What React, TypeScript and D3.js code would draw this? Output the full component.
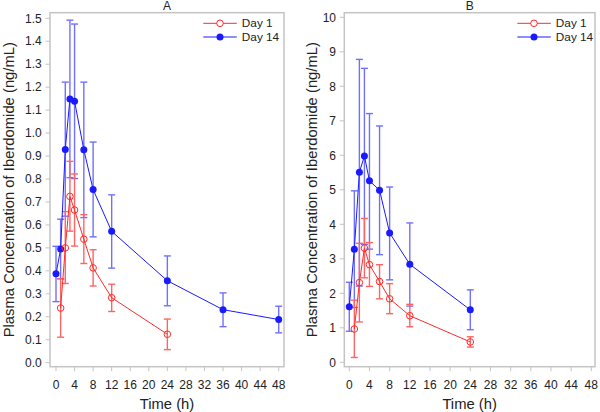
import React from "react";
import * as d3 from "d3";

const xTicks = [0, 4, 8, 12, 16, 20, 24, 28, 32, 36, 40, 44, 48];
const seriesNames = ["Day 1", "Day 14"];

// Panel A
const aDay1Time = [1, 2, 3, 4, 6, 8, 12, 24];
const aDay1Mean = [0.238, 0.5, 0.724, 0.665, 0.538, 0.413, 0.283, 0.124];
const aDay1Up = [0.365, 0.658, 0.877, 0.822, 0.645, 0.492, 0.342, 0.19];
const aDay1Lo = [0.111, 0.345, 0.573, 0.508, 0.432, 0.334, 0.223, 0.057];
const aDay14Time = [0, 1, 2, 3, 4, 6, 8, 12, 24, 36, 48];
const aDay14Mean = [0.387, 0.495, 0.929, 1.149, 1.139, 0.927, 0.754, 0.572, 0.357, 0.231, 0.188];
const aDay14Up = [0.507, 0.625, 1.222, 1.492, 1.475, 1.222, 0.961, 0.731, 0.465, 0.304, 0.246];
const aDay14Lo = [0.266, 0.366, 0.638, 0.806, 0.802, 0.632, 0.548, 0.412, 0.248, 0.157, 0.13];
const aYTicks = [0, 0.1, 0.2, 0.3, 0.4, 0.5, 0.6, 0.7, 0.8, 0.9, 1.0, 1.1, 1.2, 1.3, 1.4, 1.5];

// Panel B
const bDay1Time = [1, 2, 3, 4, 6, 8, 12, 24];
const bDay1Mean = [0.965, 2.31, 3.31, 2.83, 2.34, 1.84, 1.35, 0.59];
const bDay1Up = [1.8, 3.45, 4.17, 3.47, 2.83, 2.28, 1.68, 0.74];
const bDay1Lo = [0.14, 1.17, 2.45, 2.2, 1.84, 1.41, 1.03, 0.44];
const bDay14Time = [0, 1, 2, 3, 4, 6, 8, 12, 24];
const bDay14Mean = [1.61, 3.28, 5.51, 5.98, 5.26, 4.99, 3.75, 2.84, 1.52];
const bDay14Up = [2.32, 4.97, 8.78, 8.52, 7.21, 6.85, 5.08, 4.04, 2.1];
const bDay14Lo = [0.9, 1.59, 2.21, 3.42, 3.28, 3.12, 2.39, 1.63, 0.945];
const bYTicks = [0, 1, 2, 3, 4, 5, 6, 7, 8, 9, 10];

const RED = "#ff2a2a";
const RED_ERR = "#ff6464";
const BLUE = "#1a1aff";
const BLUE_ERR = "#7070ff";
const FRAME = "#c4c4c4";
const FONT = "'Liberation Sans', Arial, sans-serif";

type Series = { t: number[]; m: number[]; up: number[]; lo: number[] };

function Panel(props: {
  title: string;
  frameL: number; frameR: number; frameT: number; frameB: number;
  x0: number; x48: number;
  yBottom: number; yTop: number; yMax: number;
  yTicks: number[]; yFmt: (v: number) => string;
  yLabelX: number;
  legendX: number;
  day1: Series; day14: Series;
}) {
  const { frameL, frameR, frameT, frameB } = props;
  const x = d3.scaleLinear().domain([0, 48]).range([props.x0, props.x48]);
  const y = d3.scaleLinear().domain([0, props.yMax]).range([props.yBottom, props.yTop]);
  const line = d3.line<[number, number]>().x(d => x(d[0])).y(d => y(d[1]));
  const cap = 3.5;

  const errBars = (s: Series, color: string) =>
    s.t.map((t, i) => (
      <g key={i} stroke={color} strokeWidth={1.4} fill="none">
        <line x1={x(t)} x2={x(t)} y1={y(s.lo[i])} y2={y(s.up[i])} />
        <line x1={x(t) - cap} x2={x(t) + cap} y1={y(s.up[i])} y2={y(s.up[i])} />
        <line x1={x(t) - cap} x2={x(t) + cap} y1={y(s.lo[i])} y2={y(s.lo[i])} />
      </g>
    ));

  const pts = (s: Series) => s.t.map((t, i) => [t, s.m[i]] as [number, number]);
  const cx = (frameL + frameR) / 2;
  const cy = (frameT + frameB) / 2;
  const lx = props.legendX;

  return (
    <g>
      <text x={cx} y={10} textAnchor="middle" fontSize={12} fontFamily={FONT} fill="#222">{props.title}</text>
      {props.yTicks.map(v => (
        <g key={v}>
          <line x1={frameL - 4.5} x2={frameL} y1={y(v)} y2={y(v)} stroke={FRAME} strokeWidth={1} />
          <text x={frameL - 8.3} y={y(v)} dy="0.35em" textAnchor="end" fontSize={12} fontFamily={FONT} fill="#222">{props.yFmt(v)}</text>
        </g>
      ))}
      {xTicks.map(v => (
        <g key={v}>
          <line x1={x(v)} x2={x(v)} y1={frameB} y2={frameB + 4.5} stroke={FRAME} strokeWidth={1} />
          <text x={x(v)} y={384.5} dy="0.35em" textAnchor="middle" fontSize={12} fontFamily={FONT} fill="#222">{v}</text>
        </g>
      ))}
      <text x={cx} y={403.5} dy="0.35em" textAnchor="middle" fontSize={14.8} fontFamily={FONT} fill="#222">Time (h)</text>
      <text transform={`translate(${props.yLabelX},${cy}) rotate(-90)`} dy="0.35em" textAnchor="middle" fontSize={14.8} fontFamily={FONT} fill="#222">
        Plasma Concentration of Iberdomide (ng/mL)
      </text>
      {errBars(props.day14, BLUE_ERR)}
      {errBars(props.day1, RED_ERR)}
      <path d={line(pts(props.day14)) || ""} fill="none" stroke={BLUE} strokeWidth={1} />
      <path d={line(pts(props.day1)) || ""} fill="none" stroke={RED} strokeWidth={1} />
      {props.day14.t.map((t, i) => (
        <circle key={i} cx={x(t)} cy={y(props.day14.m[i])} r={3.5} fill={BLUE} />
      ))}
      {props.day1.t.map((t, i) => (
        <circle key={i} cx={x(t)} cy={y(props.day1.m[i])} r={3.3} fill="none" stroke={RED} strokeWidth={1} />
      ))}
      <rect x={frameL} y={frameT} width={frameR - frameL} height={frameB - frameT} fill="none" stroke={FRAME} strokeWidth={1.5} />
      <g>
        <line x1={lx} x2={lx + 33.5} y1={23.3} y2={23.3} stroke={RED} strokeWidth={1} />
        <circle cx={lx + 16.7} cy={23.3} r={3.3} fill="#fff" stroke={RED} strokeWidth={1} />
        <text x={lx + 38.5} y={23.3} dy="0.35em" fontSize={11.8} fontFamily={FONT} fill="#222">{seriesNames[0]}</text>
        <line x1={lx} x2={lx + 33.5} y1={37} y2={37} stroke={BLUE} strokeWidth={1} />
        <circle cx={lx + 16.7} cy={37} r={3.5} fill={BLUE} />
        <text x={lx + 38.5} y={37} dy="0.35em" fontSize={11.8} fontFamily={FONT} fill="#222">{seriesNames[1]}</text>
      </g>
    </g>
  );
}

export default function App() {
  const fmtA = (v: number) => v.toFixed(1);
  const fmtB = (v: number) => String(v);
  return (
    <svg width={600} height={412} style={{ position: "absolute", left: 0, top: 0, background: "#fff" }}>
      <rect x={0} y={0} width={600} height={412} fill="#fff" />
      <Panel
        title="A"
        frameL={50} frameR={284} frameT={12.7} frameB={366.7}
        x0={56} x48={278.7}
        yBottom={362.7} yTop={18.3} yMax={1.5}
        yTicks={aYTicks} yFmt={fmtA}
        yLabelX={8.5}
        legendX={203.3}
        day1={{ t: aDay1Time, m: aDay1Mean, up: aDay1Up, lo: aDay1Lo }}
        day14={{ t: aDay14Time, m: aDay14Mean, up: aDay14Up, lo: aDay14Lo }}
      />
      <Panel
        title="B"
        frameL={344.3} frameR={595} frameT={12.7} frameB={366.7}
        x0={349.3} x48={591.3}
        yBottom={362.3} yTop={17.3} yMax={10}
        yTicks={bYTicks} yFmt={fmtB}
        yLabelX={312}
        legendX={517.3}
        day1={{ t: bDay1Time, m: bDay1Mean, up: bDay1Up, lo: bDay1Lo }}
        day14={{ t: bDay14Time, m: bDay14Mean, up: bDay14Up, lo: bDay14Lo }}
      />
    </svg>
  );
}
